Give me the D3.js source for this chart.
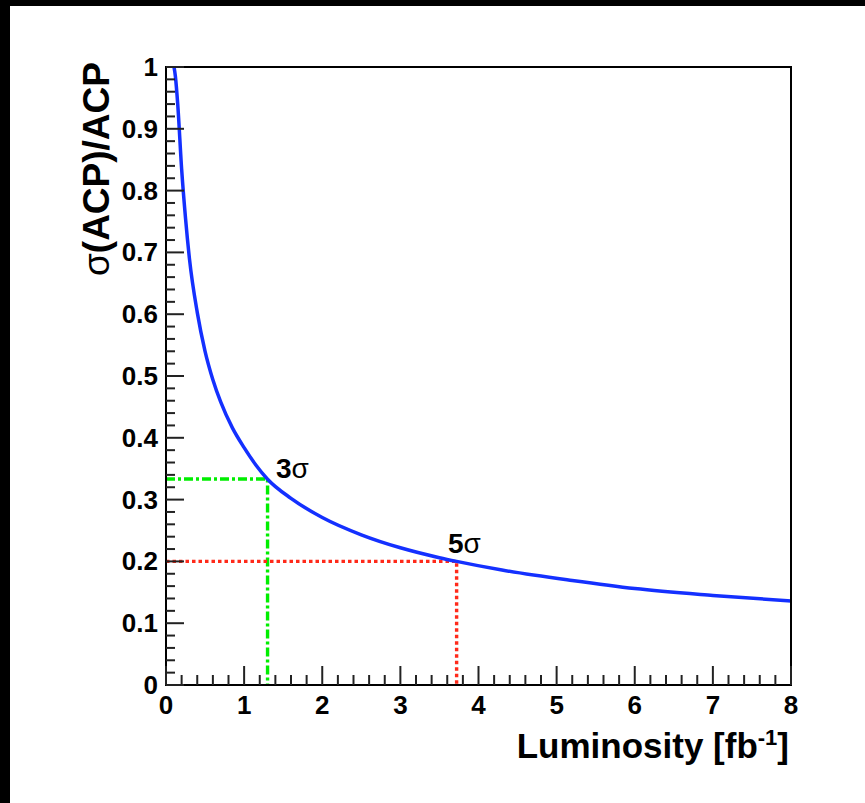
<!DOCTYPE html>
<html>
<head>
<meta charset="utf-8">
<script src="https://cdn.jsdelivr.net/npm/d3@7"></script>
<style>
  html, body { margin: 0; padding: 0; background: #fff; }
  svg { display: block; }
  text { font-family: "Liberation Sans", Arial, Helvetica, sans-serif; }
</style>
</head>
<body>
<div id="chart"></div>
<script>
// luminosity [fb^-1] and relative error
var lumi = [0.085, 0.12, 0.15, 0.2, 0.25, 0.3, 0.4, 0.5, 0.6, 0.7, 0.85, 1.0, 1.15, 1.3, 1.6, 2.0, 2.5, 3.0, 3.5, 3.72, 4.3, 5.2, 6.0, 7.0, 8.0];
var relErr = [1.01, 0.985, 0.94, 0.835, 0.755, 0.69, 0.603, 0.54, 0.494, 0.458, 0.416, 0.384, 0.356, 0.333, 0.302, 0.271, 0.243, 0.222, 0.206, 0.2, 0.186, 0.169, 0.156, 0.145, 0.136];

// significance markers
var markLabels = ['3', '5'];
var markLumi = [1.3, 3.72];
var markErr = [1 / 3, 0.2];

var xTicks = [0, 1, 2, 3, 4, 5, 6, 7, 8];
var yTicks = [0, 0.1, 0.2, 0.3, 0.4, 0.5, 0.6, 0.7, 0.8, 0.9, 1];

(function () {
    'use strict';

    var W = 865, H = 803;
    var left = 166, right = 791, top = 67, bottom = 685;

    var svg = d3.select('#chart').append('svg')
        .attr('width', W)
        .attr('height', H);

    // canvas border (black strip on top and left)
    svg.append('rect').attr('x', 0).attr('y', 0).attr('width', W).attr('height', 6).attr('fill', '#000');
    svg.append('rect').attr('x', 0).attr('y', 0).attr('width', 10).attr('height', H).attr('fill', '#000');

    var x = d3.scaleLinear().domain([0, 8]).range([left, right]);
    var y = d3.scaleLinear().domain([0, 1]).range([bottom, top]);

    svg.append('clipPath').attr('id', 'clip')
        .append('rect')
        .attr('x', left).attr('y', top)
        .attr('width', right - left).attr('height', bottom - top);

    var plot = svg.append('g').attr('class', 'plot').attr('clip-path', 'url(#clip)');

    // green 3 sigma, red 5 sigma guide lines
    var guideColor = ['#00ee00', '#ff2a1a'];
    var guideDash = ['9,3,3,3', '3.5,3'];
    markLumi.forEach(function (l, i) {
        plot.append('path')
            .attr('d', 'M' + x(0) + ',' + y(markErr[i]) + 'H' + x(l) + 'V' + y(0))
            .attr('fill', 'none')
            .attr('stroke', guideColor[i])
            .attr('stroke-width', 3.4)
            .attr('stroke-dasharray', guideDash[i]);
    });

    var line = d3.line()
        .x(function (d, i) { return x(lumi[i]); })
        .y(function (d) { return y(d); })
        .curve(d3.curveMonotoneX);

    plot.append('path')
        .datum(relErr)
        .attr('d', line)
        .attr('fill', 'none')
        .attr('stroke', '#1430ff')
        .attr('stroke-width', 3.5);

    // frame
    svg.append('rect')
        .attr('x', left).attr('y', top)
        .attr('width', right - left).attr('height', bottom - top)
        .attr('fill', 'none')
        .attr('stroke', '#000')
        .attr('stroke-width', 2);

    // ticks, root style: inside, on left and bottom only
    var ax = svg.append('g').attr('class', 'ticks').attr('stroke', '#222').attr('stroke-width', 2);
    d3.range(0, 8.001, 0.2).forEach(function (v) {
        var major = Math.abs(v - Math.round(v)) < 1e-6;
        ax.append('line')
            .attr('x1', x(v)).attr('x2', x(v))
            .attr('y1', bottom).attr('y2', bottom - (major ? 19 : 10));
    });
    d3.range(0, 1.0001, 0.02).forEach(function (v) {
        var major = Math.abs(v * 10 - Math.round(v * 10)) < 1e-6;
        ax.append('line')
            .attr('x1', left).attr('x2', left + (major ? 18 : 9))
            .attr('y1', y(v)).attr('y2', y(v));
    });

    svg.selectAll('.xlab')
        .data(xTicks)
        .enter().append('text')
        .attr('class', 'xlab')
        .attr('x', function (d) { return x(d); })
        .attr('y', 714)
        .attr('text-anchor', 'middle')
        .style('font-size', '26px')
        .style('font-weight', 'bold')
        .text(function (d) { return d; });

    svg.selectAll('.ylab')
        .data(yTicks)
        .enter().append('text')
        .attr('class', 'ylab')
        .attr('x', 158)
        .attr('y', function (d) { return y(d) + 9; })
        .attr('text-anchor', 'end')
        .style('font-size', '26px')
        .style('font-weight', 'bold')
        .text(function (d) { return d; });

    // axis titles
    var xt = svg.append('text')
        .attr('x', 789)
        .attr('y', 758)
        .attr('text-anchor', 'end')
        .style('font-size', '35px')
        .style('font-weight', 'bold');
    xt.append('tspan').text('Luminosity [fb');
    xt.append('tspan').attr('dy', -13).style('font-size', '22px').text('-1');
    xt.append('tspan').attr('dy', 13).text(']');

    var yt = svg.append('text')
        .attr('transform', 'translate(109,62) rotate(-90)')
        .attr('text-anchor', 'end')
        .style('font-size', '37px')
        .style('font-weight', 'bold');
    yt.append('tspan').style('font-weight', 'normal').text('σ');
    yt.append('tspan').text('(ACP)/ACP');

    // significance labels
    var labX = [276, 448];
    var labY = [478, 553];
    markLabels.forEach(function (s, i) {
        var t = svg.append('text')
            .attr('x', labX[i])
            .attr('y', labY[i])
            .style('font-size', '28px')
            .style('font-weight', 'bold');
        t.append('tspan').text(s);
        t.append('tspan').style('font-weight', 'normal').text('σ');
    });
})();
</script>
</body>
</html>
